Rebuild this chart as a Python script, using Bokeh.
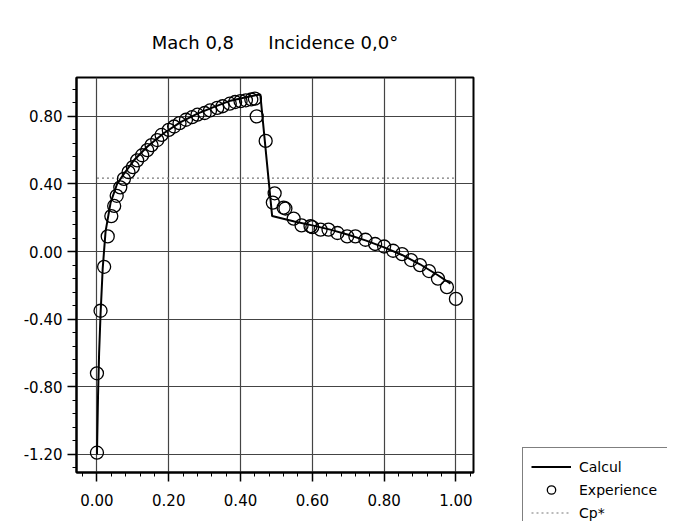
from bokeh.plotting import figure
from bokeh.models import Range1d, FixedTicker, Legend, LegendItem
from bokeh.layouts import row, column
from bokeh.embed import file_html
from bokeh.resources import INLINE

# ---- data ----
calc_x = [0.000, 0.003, 0.006, 0.010, 0.016, 0.024, 0.038, 0.056, 0.075, 0.103,
          0.140, 0.186, 0.233, 0.280, 0.325, 0.372, 0.418, 0.455, 0.488, 0.550,
          0.600, 0.650, 0.700, 0.750, 0.800, 0.850, 0.900, 0.950, 0.985]
calc_y = [-1.200, -0.850, -0.600, -0.370, -0.100, 0.120, 0.290, 0.400, 0.460, 0.540,
          0.620, 0.700, 0.766, 0.816, 0.855, 0.893, 0.915, 0.930, 0.210, 0.178,
          0.155, 0.130, 0.100, 0.065, 0.025, -0.020, -0.075, -0.140, -0.190]

exp_x = [0.000, 0.000, 0.010, 0.020, 0.030, 0.040, 0.048, 0.055, 0.065, 0.075,
         0.088, 0.100, 0.112, 0.126, 0.140, 0.152, 0.168, 0.180, 0.200, 0.215,
         0.230, 0.248, 0.265, 0.280, 0.300, 0.315, 0.335, 0.350, 0.370, 0.385,
         0.400, 0.415, 0.430, 0.440, 0.445, 0.470, 0.490, 0.495, 0.520, 0.525,
         0.548, 0.570, 0.595, 0.600, 0.623, 0.645, 0.670, 0.697, 0.720, 0.748,
         0.775, 0.800, 0.825, 0.850, 0.875, 0.900, 0.925, 0.950, 0.975, 1.000]
exp_y = [-1.190, -0.720, -0.350, -0.090, 0.090, 0.210, 0.270, 0.330, 0.380, 0.430,
         0.470, 0.500, 0.540, 0.570, 0.600, 0.630, 0.660, 0.690, 0.720, 0.740,
         0.760, 0.780, 0.795, 0.810, 0.820, 0.835, 0.850, 0.860, 0.875, 0.885,
         0.890, 0.895, 0.900, 0.905, 0.800, 0.655, 0.290, 0.345, 0.260, 0.255,
         0.195, 0.155, 0.150, 0.145, 0.130, 0.130, 0.110, 0.090, 0.090, 0.070,
         0.045, 0.030, 0.005, -0.015, -0.050, -0.080, -0.115, -0.160, -0.210, -0.280]

cp_star = 0.435
cp_star_x = [0.0, 1.0]

x_ticks = [0.0, 0.2, 0.4, 0.6, 0.8, 1.0]
x_labels = ["0.00", "0.20", "0.40", "0.60", "0.80", "1.00"]
y_ticks = [-1.2, -0.8, -0.4, 0.0, 0.4, 0.8]
y_labels = ["-1.20", "-0.80", "-0.40", "0.00", "0.40", "0.80"]

title_text = "Mach 0,8" + "\u00a0" * 6 + "Incidence 0,0°"
legend_labels = ["Calcul", "Experience", "Cp*"]

FONT = "DejaVu Sans"

p = figure(width=521, height=521, output_backend="svg", toolbar_location=None,
           x_range=Range1d(-0.057, 1.049), y_range=Range1d(-1.307, 1.03),
           min_border_left=76, min_border_right=48, min_border_top=77,
           min_border_bottom=49, title=title_text)
p.title.text_font = FONT
p.title.text_font_size = "18px"
p.title.text_font_style = "normal"
p.title.text_color = "black"
p.title.align = "center"
p.title.offset = 5
p.title.standoff = 50

p.outline_line_color = "black"
p.outline_line_width = 2

for ax, ticks, labels in ((p.xaxis[0], x_ticks, x_labels), (p.yaxis[0], y_ticks, y_labels)):
    step = ticks[1] - ticks[0]
    ax.ticker = FixedTicker(ticks=ticks, minor_ticks=[
        t0 + k * step / 5 for t0 in [ticks[0] - step] + ticks for k in range(1, 5)])
    ax.major_label_overrides = {t: l for t, l in zip(ticks, labels)}
    ax.major_label_text_font = FONT
    ax.major_label_text_font_size = "15px"
    ax.major_label_text_color = "black"
    ax.axis_line_color = "black"
    ax.axis_line_width = 2
    ax.major_tick_line_color = "black"
    ax.major_tick_line_width = 1.5
    ax.major_tick_out = 9
    ax.major_tick_in = 0
    ax.minor_tick_line_color = "black"
    ax.minor_tick_line_width = 1
    ax.minor_tick_out = 4
    ax.minor_tick_in = 0
p.xaxis[0].major_label_standoff = 12
p.yaxis[0].major_label_standoff = 5

p.xgrid.grid_line_color = "#444444"
p.ygrid.grid_line_color = "#444444"
p.xgrid.grid_line_width = 1.2
p.ygrid.grid_line_width = 1.2

cp_style = dict(line_color="#777777", line_width=1.2, line_dash="2 3")
calc_style = dict(line_color="black", line_width=2)
exp_style = dict(marker="circle", size=13, fill_color=None, line_color="black", line_width=1.3)

p.line(cp_star_x, [cp_star, cp_star], **cp_style)
p.line(calc_x, calc_y, **calc_style)
p.scatter(exp_x, exp_y, **exp_style)

# ---- legend panel (sits to the right, below the plot area) ----
lg = figure(width=146, height=521, output_backend="svg", toolbar_location=None,
            x_range=Range1d(0, 1), y_range=Range1d(0, 1),
            min_border=0, x_axis_location=None, y_axis_location=None)
lg.grid.visible = False
lg.outline_line_color = None
off = [5.0, 6.0]
l_calc = lg.line(off, off, **calc_style)
l_exp = lg.scatter(off, off, marker="circle", size=10, fill_color=None,
                   line_color="black", line_width=1.3)
l_cp = lg.line(off, off, **cp_style)

legend = Legend(items=[LegendItem(label=legend_labels[0], renderers=[l_calc]),
                       LegendItem(label=legend_labels[1], renderers=[l_exp]),
                       LegendItem(label=legend_labels[2], renderers=[l_cp])],
                location=(1, -11))
legend.label_text_font = FONT
legend.label_text_font_size = "14px"
legend.label_text_color = "black"
legend.glyph_width = 40
legend.glyph_height = 21
legend.label_height = 21
legend.label_width = 120
legend.label_standoff = 8
legend.spacing = 2
legend.padding = 8
legend.margin = 0
legend.border_line_color = "black"
legend.border_line_width = 1.5
legend.background_fill_alpha = 1
lg.add_layout(legend, "center")

layout = row(p, column(lg, spacing=0), spacing=0)
open("out.html", "w").write(file_html(layout, INLINE))
